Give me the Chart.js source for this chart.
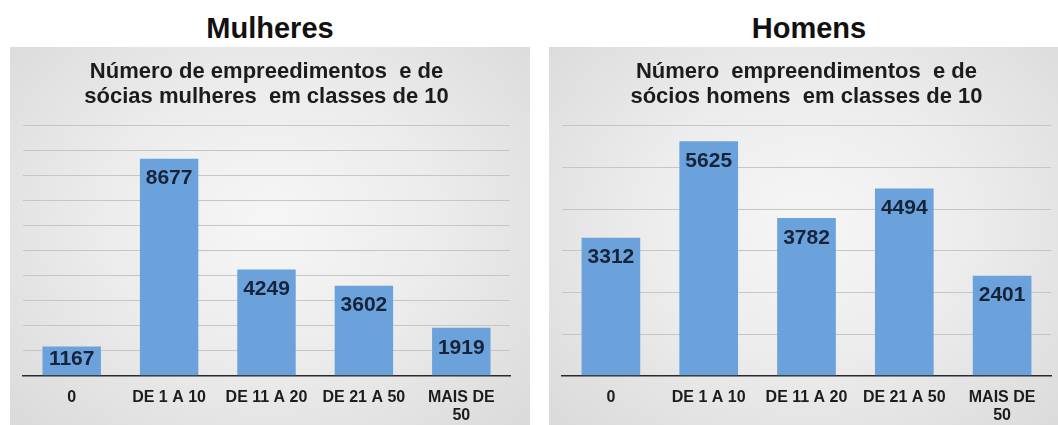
<!DOCTYPE html>
<html>
<head>
<meta charset="utf-8">
<script src="https://cdn.jsdelivr.net/npm/chart.js@4/dist/chart.umd.min.js"></script>
<style>
  html, body { margin: 0; padding: 0; background: #fff; overflow: hidden; }
  body { width: 1058px; height: 425px; position: relative; font-family: "Liberation Sans", Arial, sans-serif; }
  .painel { position: absolute; top: 0; width: 520px; height: 425px; overflow: hidden; }
  .painel h2 {
    margin: 0; position: absolute; top: 11px; width: 100%; text-align: center;
    font-size: 29px; font-weight: bold; color: #111; line-height: 34px;
  }
  .caixa {
    position: absolute; top: 47px; left: 0; width: 520px; height: 390px;
    background: radial-gradient(ellipse at 50% 45%, #f6f6f6 0%, #ececec 45%, #d9d9d9 100%);
  }
  .caixa canvas { display: block; }
</style>
</head>
<body>
<div class="painel" style="left:10px">
  <h2>Mulheres</h2>
  <div class="caixa"><canvas id="graficoMulheres" width="520" height="390"></canvas></div>
</div>
<div class="painel" style="left:549px">
  <h2>Homens</h2>
  <div class="caixa"><canvas id="graficoHomens" width="520" height="390"></canvas></div>
</div>
<script>
const categorias = ['0', 'DE 1 A 10', 'DE 11 A 20', 'DE 21 A 50', ['MAIS DE', '50']];
const mulheres = [1167, 8677, 4249, 3602, 1919];
const homens = [3312, 5625, 3782, 4494, 2401];
const tituloMulheres = ['Número de empreedimentos  e de', 'sócias mulheres  em classes de 10'];
const tituloHomens = ['Número  empreendimentos  e de', 'sócios homens  em classes de 10'];

const fonte = '"Liberation Sans", Arial, sans-serif';

// escreve o valor dentro do topo de cada barra
const rotulos = {
  id: 'rotulos',
  afterDatasetsDraw(chart) {
    const ctx = chart.ctx;
    const meta = chart.getDatasetMeta(0);
    ctx.save();
    ctx.font = 'bold 21px ' + fonte;
    ctx.fillStyle = '#16243a';
    ctx.textAlign = 'center';
    ctx.textBaseline = 'middle';
    meta.data.forEach((bar, i) => {
      const valor = chart.data.datasets[0].data[i];
      const alto = bar.base - bar.y;
      const dy = alto < 40 ? alto / 2 - 2 : 20;
      ctx.fillText(valor, bar.x, bar.y + dy);
    });
    ctx.restore();
  }
};

function grafico(id, titulo, dados, max, padRight) {
  const ctx = document.getElementById(id).getContext('2d');
  return new Chart(ctx, {
    type: 'bar',
    data: {
      labels: categorias,
      datasets: [{
        data: dados,
        backgroundColor: '#6ca2dc',
        borderWidth: 0,
        categoryPercentage: 1,
        barPercentage: 0.6
      }]
    },
    options: {
      responsive: false,
      animation: false,
      layout: { padding: { left: 13, right: padRight, top: 0, bottom: 0 } },
      plugins: {
        legend: { display: false },
        tooltip: { enabled: false },
        title: {
          display: true,
          text: titulo,
          color: '#1c1c1c',
          font: { family: fonte, size: 22, weight: 'bold', lineHeight: 1.15 },
          padding: { top: 12, bottom: 16 }
        }
      },
      scales: {
        x: {
          grid: { display: false, drawTicks: false },
          border: { display: true, color: '#2a2a2a', width: 1.5 },
          ticks: {
            color: '#1c1c1c',
            padding: 13,
            maxRotation: 0,
            autoSkip: false,
            font: { family: fonte, size: 16, weight: 'bold', lineHeight: 1.1 }
          }
        },
        y: {
          min: 0,
          max: max,
          grid: { color: '#c6c6c6', lineWidth: 1, drawTicks: false },
          border: { display: false },
          ticks: { display: false, stepSize: 1000 }
        }
      }
    },
    plugins: [rotulos]
  });
}

grafico('graficoMulheres', tituloMulheres, mulheres, 10000, 20);
grafico('graficoHomens', tituloHomens, homens, 6000, 18);
</script>
</body>
</html>
